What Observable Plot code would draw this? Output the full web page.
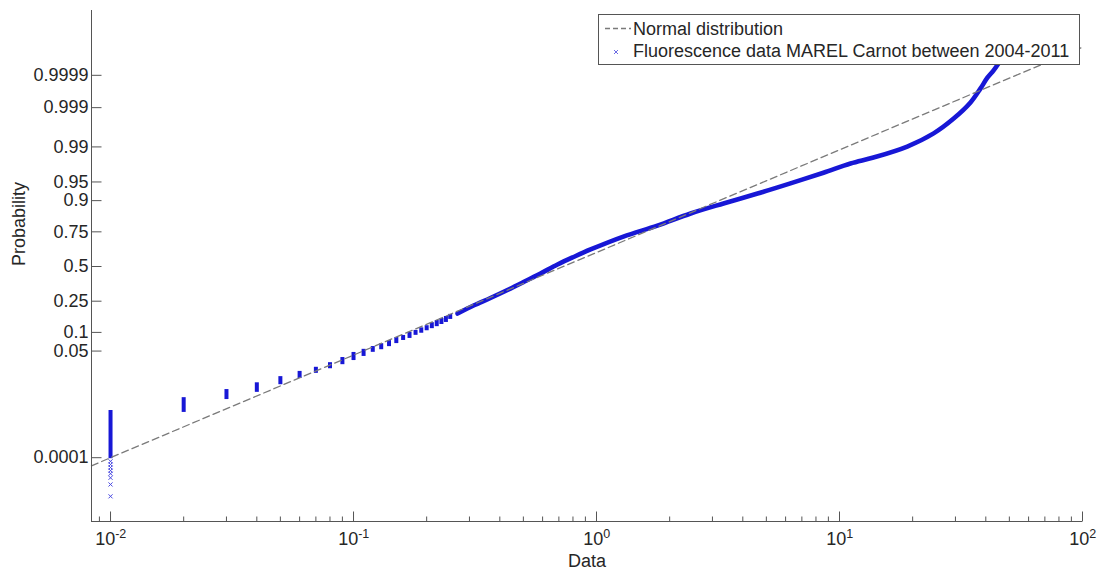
<!DOCTYPE html>
<html>
<head>
<meta charset="utf-8">
<script src="https://cdn.jsdelivr.net/npm/d3@7"></script>
<script src="https://cdn.jsdelivr.net/npm/@observablehq/plot@0.6"></script>
<style>
  body { margin: 0; background: #fff; }
  svg { display: block; }
</style>
</head>
<body>
<div id="chart"></div>
<script>
// ---------------- data ----------------
// axis limits (x: data, y: normal quantile units)
const xLimits = [0.00835, 100];
const zLimits = [-4.96, 4.98];

// x axis ticks
const xMajor = [0.01, 0.1, 1, 10, 100];
const xMajorExp = ["-2", "-1", "0", "1", "2"];
const xMinor = [0.009,
  0.02, 0.03, 0.04, 0.05, 0.06, 0.07, 0.08, 0.09,
  0.2, 0.3, 0.4, 0.5, 0.6, 0.7, 0.8, 0.9,
  2, 3, 4, 5, 6, 7, 8, 9,
  20, 30, 40, 50, 60, 70, 80, 90];

// y axis ticks (probabilities)
const yTicks = [0.0001, 0.05, 0.1, 0.25, 0.5, 0.75, 0.9, 0.95, 0.99, 0.999, 0.9999];
const yTickLabels = ["0.0001", "0.05", "0.1", "0.25", "0.5", "0.75", "0.9", "0.95", "0.99", "0.999", "0.9999"];

// discrete low values (0.01 resolution): probability span covered by each value
const levelX = [0.01, 0.02, 0.03, 0.04, 0.05, 0.06, 0.07, 0.08, 0.09, 0.10,
  0.11, 0.12, 0.13, 0.14, 0.15, 0.16, 0.17, 0.18, 0.19, 0.20,
  0.21, 0.22, 0.23, 0.24, 0.25];
const levelPLow = [0.000108, 0.00256, 0.0054, 0.0080, 0.0119, 0.0162, 0.0207, 0.0256, 0.0307, 0.0367,
  0.0436, 0.0515, 0.0571, 0.0643, 0.0721, 0.0808, 0.0869, 0.0968, 0.104, 0.113,
  0.121, 0.129, 0.138, 0.147, 0.161];
const levelPHigh = [0.00226, 0.0048, 0.0075, 0.0107, 0.0146, 0.0188, 0.0228, 0.0281, 0.0352, 0.0436,
  0.0495, 0.0553, 0.0618, 0.0694, 0.0778, 0.0838, 0.0934, 0.100, 0.109, 0.117,
  0.129, 0.138, 0.147, 0.156, 0.166];

// isolated lowest observations at 0.01
const lowX = 0.01;
const lowP = [0.0000753, 0.000059, 0.0000461, 0.0000359, 0.0000279, 0.0000198, 0.0000112, 0.0000039];

// dense part of the sample (data value, probability)
const curveX = [0.268, 0.312, 0.366, 0.430, 0.501, 0.588, 0.691, 0.804, 0.945, 1.29,
  1.78, 2.44, 3.33, 4.60, 6.28, 8.59, 11.1, 13.8, 19.0, 24.4,
  29.5, 34.6, 38.0, 40.6, 43.0, 45.1];
const curveP = [0.180, 0.224, 0.270, 0.324, 0.3815, 0.446, 0.5155, 0.5733, 0.630, 0.720,
  0.787, 0.849, 0.890, 0.922, 0.947, 0.966, 0.9775, 0.983, 0.9902, 0.9952,
  0.9980, 0.99929, 0.99973, 0.99988, 0.999931, 0.999961];

// fitted normal distribution reference line
const normalX = [0.00835, 0.01, 100];
const normalP = [0.000053, 0.0001, 0.99999];

// legend
const legendLabels = ["Normal distribution", "Fluorescence data MAREL Carnot between 2004-2011"];

// ---------------- helpers ----------------
function probit(p) {
  const a = [-3.969683028665376e+01, 2.209460984245205e+02, -2.759285104469687e+02, 1.383577518672690e+02, -3.066479806614716e+01, 2.506628277459239e+00];
  const b = [-5.447609879822406e+01, 1.615858368580409e+02, -1.556989798598866e+02, 6.680131188771972e+01, -1.328068155288572e+01];
  const c = [-7.784894002430293e-03, -3.223964580411365e-01, -2.400758277161838e+00, -2.549732539343734e+00, 4.374664141464968e+00, 2.938163982698783e+00];
  const d = [7.784695709041462e-03, 3.224671290700398e-01, 2.445134137142996e+00, 3.754408661907416e+00];
  const plow = 0.02425, phigh = 1 - plow;
  let q, r;
  if (p < plow) {
    q = Math.sqrt(-2 * Math.log(p));
    return (((((c[0]*q+c[1])*q+c[2])*q+c[3])*q+c[4])*q+c[5]) / ((((d[0]*q+d[1])*q+d[2])*q+d[3])*q+1);
  }
  if (p > phigh) {
    q = Math.sqrt(-2 * Math.log(1 - p));
    return -(((((c[0]*q+c[1])*q+c[2])*q+c[3])*q+c[4])*q+c[5]) / ((((d[0]*q+d[1])*q+d[2])*q+d[3])*q+1);
  }
  q = p - 0.5; r = q * q;
  return (((((a[0]*r+a[1])*r+a[2])*r+a[3])*r+a[4])*r+a[5])*q / (((((b[0]*r+b[1])*r+b[2])*r+b[3])*r+b[4])*r+1);
}

const FONT = "'Liberation Sans', Arial, Helvetica, sans-serif";
const BLUE = "#1717d6";
const AXIS = "#555";
const TEXT = "#262626";

const tickUp = len => ({ draw(ctx) { ctx.moveTo(0, 0); ctx.lineTo(0, -len); } });
const tickRight = len => ({ draw(ctx) { ctx.moveTo(0, 0); ctx.lineTo(len, 0); } });

const idx = arr => arr.map((_, i) => i);

// x labels: "10" + superscript exponent, centred as a whole on the tick
const baseW = 20, supCharW = { "-": 4, "0": 6.7, "1": 6.7, "2": 6.7 };
const xLabelMarks = xMajor.flatMap((v, i) => {
  const supW = [...xMajorExp[i]].reduce((s, ch) => s + (supCharW[ch] || 6.7), 0);
  const start = -(baseW + supW) / 2;
  return [
    Plot.text([v], { x: d => d, y: zLimits[0], text: () => "10", textAnchor: "start", lineAnchor: "bottom",
      dx: start, dy: 23, fontSize: 18, fill: TEXT }),
    Plot.text([v], { x: d => d, y: zLimits[0], text: () => xMajorExp[i], textAnchor: "start", lineAnchor: "bottom",
      dx: start + baseW, dy: 16, fontSize: 12.5, fill: TEXT })
  ];
});

const chart = Plot.plot({
  width: 1101,
  height: 570,
  marginLeft: 91,
  marginRight: 19,
  marginTop: 10,
  marginBottom: 49,
  style: { fontFamily: FONT, background: "white", overflow: "visible" },
  x: { type: "log", domain: xLimits, axis: null },
  y: { type: "linear", domain: zLimits, axis: null },
  marks: [
    // data: discrete low values
    Plot.ruleX(idx(levelX), {
      x: i => levelX[i], y1: i => probit(levelPLow[i]), y2: i => probit(levelPHigh[i]),
      stroke: BLUE, strokeWidth: 4, strokeLinecap: "square"
    }),
    Plot.dot(lowP, { x: lowX, y: d => probit(d), symbol: "times", r: 2, stroke: "#4b4be2", strokeWidth: 1, fill: "none" }),
    // data: dense part
    Plot.line(idx(curveX), {
      x: i => curveX[i], y: i => probit(curveP[i]),
      stroke: BLUE, strokeWidth: 4.6, strokeLinejoin: "round", strokeLinecap: "round", curve: "catmull-rom"
    }),
    // normal reference line
    Plot.line(idx(normalX), {
      x: i => normalX[i], y: i => probit(normalP[i]),
      stroke: "#7a7a7a", strokeWidth: 1.3, strokeDasharray: "7,4"
    }),
    // axis lines
    Plot.ruleX([xLimits[0]], { stroke: AXIS, strokeWidth: 1 }),
    Plot.ruleY([zLimits[0]], { stroke: AXIS, strokeWidth: 1 }),
    // x ticks (inward)
    Plot.dot(xMajor, { x: d => d, y: zLimits[0], symbol: tickUp(10), r: 2, stroke: AXIS, fill: "none", strokeWidth: 1 }),
    Plot.dot(xMinor, { x: d => d, y: zLimits[0], symbol: tickUp(5), r: 2, stroke: AXIS, fill: "none", strokeWidth: 1 }),
    // y ticks (inward)
    Plot.dot(yTicks, { x: xLimits[0], y: d => probit(d), symbol: tickRight(10), r: 2, stroke: AXIS, fill: "none", strokeWidth: 1 }),
    // y tick labels
    Plot.text(idx(yTicks), {
      x: xLimits[0], y: i => probit(yTicks[i]), text: i => yTickLabels[i],
      textAnchor: "end", dx: -3, fontSize: 18, fill: TEXT
    }),
    ...xLabelMarks,
    // axis titles
    Plot.text(["Probability"], { frameAnchor: "left", dx: -72, rotate: -90, fontSize: 18, fill: TEXT }),
    Plot.text(["Data"], { frameAnchor: "bottom", lineAnchor: "bottom", dy: 45, fontSize: 18, fill: TEXT })
  ]
});

// legend box (drawn on top, opaque like the original)
const g = d3.select(chart).append("g")
  .attr("font-family", FONT).attr("font-size", 18).attr("fill", TEXT)
  .attr("text-anchor", "start");
g.append("rect").attr("x", 598.5).attr("y", 14.5).attr("width", 481).attr("height", 50)
  .attr("fill", "white").attr("stroke", "#555").attr("stroke-width", 1);
g.append("line").attr("x1", 605).attr("x2", 631).attr("y1", 28.5).attr("y2", 28.5)
  .attr("stroke", "#7a7a7a").attr("stroke-width", 1.3).attr("stroke-dasharray", "5,3");
g.append("path").attr("d", "M614,50L618,54M618,50L614,54")
  .attr("stroke", "#6c6ce4").attr("stroke-width", 1).attr("fill", "none");
g.append("text").attr("x", 633).attr("y", 35).attr("text-anchor", "start").text(legendLabels[0]);
g.append("text").attr("x", 633).attr("y", 57).attr("text-anchor", "start").text(legendLabels[1]);

document.getElementById("chart").appendChild(chart);
</script>
</body>
</html>
